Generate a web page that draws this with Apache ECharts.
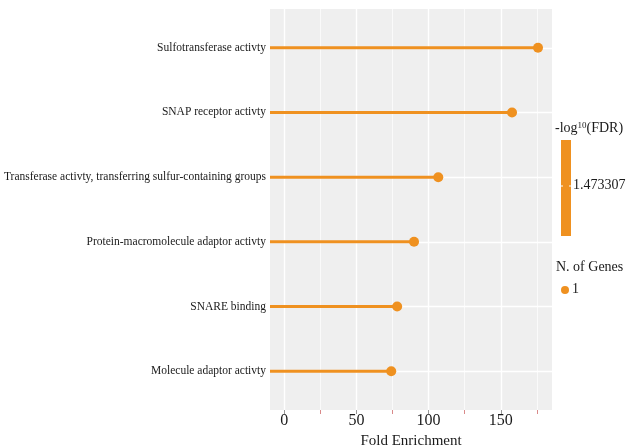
<!DOCTYPE html>
<html><head><meta charset="utf-8">
<script src="https://cdn.jsdelivr.net/npm/echarts@6/dist/echarts.min.js"></script>
<style>html,body{margin:0;padding:0;background:#fff}#c{width:637px;height:447px}</style>
</head><body><div id="c"></div>
<script>
const categories = [
  'Sulfotransferase activty',
  'SNAP receptor activty',
  'Transferase activty, transferring sulfur-containing groups',
  'Protein-macromolecule adaptor activty',
  'SNARE binding',
  'Molecule adaptor activty'
];
const foldEnrichment = [175.8, 157.8, 106.7, 89.9, 78.2, 74.1];
const majorTicks = [0, 50, 100, 150];
const minorTicks = [25, 75, 125, 175];
const fdrLabel = '1.473307';
const geneCountLabel = '1';

const X_MIN = -9.9, X_MAX = 185.5;
const ORANGE = '#EF9120';
const FONT = '"Liberation Serif", "DejaVu Serif", serif';
const idx = categories.map((_, i) => i + 1);
const points = foldEnrichment.map((v, i) => [v, i + 1]);

const chart = echarts.init(document.getElementById('c'), null, {renderer: 'canvas'});
chart.setOption({
  backgroundColor: '#ffffff',
  animation: false,
  grid: {left: 270, right: 85, top: 9, bottom: 37, show: true, backgroundColor: '#EFEFEF', borderWidth: 0,
    containLabel: false, outerBoundsMode: 'none'},
  xAxis: [{
    type: 'value', min: X_MIN, max: X_MAX,
    name: 'Fold Enrichment', nameLocation: 'middle', nameGap: 20,
    nameTextStyle: {fontFamily: FONT, fontSize: 15, color: '#1a1a1a'},
    axisLine: {show: false},
    axisTick: {show: true, length: 4, lineStyle: {color: '#9a9a9a'}, customValues: majorTicks},
    axisLabel: {customValues: majorTicks, fontFamily: FONT, fontSize: 16, color: '#1a1a1a', margin: 3},
    splitLine: {show: true, lineStyle: {color: '#ffffff', width: 1.4}}
  }, {
    type: 'value', min: X_MIN, max: X_MAX, position: 'bottom',
    axisLine: {show: false},
    axisTick: {show: true, length: 4, lineStyle: {color: '#d98a8a'}, customValues: minorTicks},
    axisLabel: {show: false, customValues: minorTicks},
    splitLine: {show: true, lineStyle: {color: '#ffffff', width: 0.7}}
  }],
  yAxis: {
    type: 'value', min: 0.4, max: 6.6, inverse: true,
    axisLine: {show: false},
    axisTick: {show: true, length: 3, lineStyle: {color: '#555'}, customValues: idx},
    axisLabel: {customValues: idx, formatter: v => categories[Math.round(v) - 1] || '',
      fontFamily: FONT, fontSize: 11.5, color: '#1a1a1a', margin: 4},
    splitLine: {show: true, lineStyle: {color: '#ffffff', width: 1.4}}
  },
  series: [{
    type: 'custom',
    data: points,
    renderItem: function (params, api) {
      const v = api.value(0), c = api.value(1);
      const p0 = api.coord([X_MIN, c]);
      const p1 = api.coord([v, c]);
      return {type: 'line', shape: {x1: p0[0], y1: p0[1], x2: p1[0], y2: p1[1]},
        style: {stroke: ORANGE, lineWidth: 3}};
    },
    encode: {x: 0, y: 1}
  }, {
    type: 'scatter',
    data: points,
    symbol: 'circle', symbolSize: 10,
    itemStyle: {color: ORANGE, opacity: 1}
  }],
  graphic: [
    {type: 'text', left: 555, top: 121, style: {
      text: '{a|-log}{s|10}{a|(FDR)}', fill: '#1a1a1a',
      rich: {a: {fontFamily: FONT, fontSize: 14, fill: '#1a1a1a'},
             s: {fontFamily: FONT, fontSize: 9, fill: '#1a1a1a', verticalAlign: 'top', padding: [0,0,6,0]}}
    }},
    {type: 'rect', shape: {x: 561, y: 140, width: 10, height: 96}, style: {fill: ORANGE}},
    {type: 'line', shape: {x1: 561, y1: 186, x2: 563, y2: 186}, style: {stroke: '#ffffff', lineWidth: 1}},
    {type: 'line', shape: {x1: 569, y1: 186, x2: 571, y2: 186}, style: {stroke: '#ffffff', lineWidth: 1}},
    {type: 'text', left: 573, top: 178, style: {text: fdrLabel, fontFamily: FONT, fontSize: 14, fill: '#1a1a1a'}},
    {type: 'text', left: 556, top: 260, style: {text: 'N. of Genes', fontFamily: FONT, fontSize: 14, fill: '#1a1a1a'}},
    {type: 'circle', shape: {cx: 565, cy: 290, r: 4}, style: {fill: ORANGE}},
    {type: 'text', left: 572, top: 282, style: {text: geneCountLabel, fontFamily: FONT, fontSize: 14, fill: '#1a1a1a'}}
  ]
});
</script></body></html>
